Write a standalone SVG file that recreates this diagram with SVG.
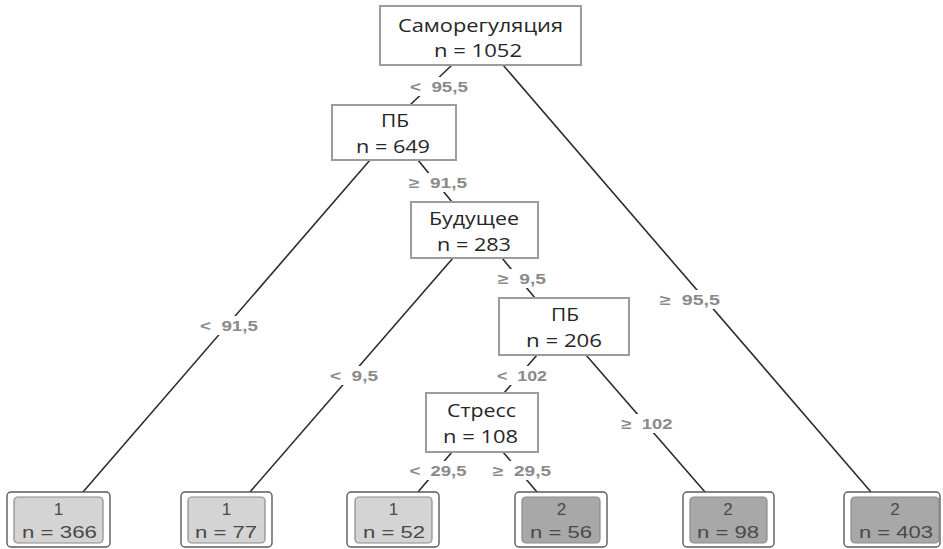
<svg xmlns="http://www.w3.org/2000/svg" width="943" height="549" viewBox="0 0 943 549">
<style>
.box{fill:#fff;stroke:#9c9c9c;stroke-width:2}
.nt{font-family:"Open Sans","Liberation Sans",sans-serif;font-size:19px;fill:#262626;text-anchor:middle}
.edge{stroke:#2b2b2b;stroke-width:1.6;fill:none}
.lbg{fill:#fff}
.lt{font-family:"Liberation Sans",Arial,sans-serif;font-size:14.5px;font-weight:bold;fill:#8a8a8a;text-anchor:middle}
.lo{fill:#fff;stroke:#5a5a5a;stroke-width:1.4}
.li{stroke:#8a8a8a;stroke-width:1.2}
.light{fill:#d4d4d4}
.dark{fill:#a8a8a8}
.ft{font-family:"Liberation Sans",Arial,sans-serif;font-size:17px;fill:#4a4a4a;text-anchor:middle}
</style>
<rect width="943" height="549" fill="#fff"/>
<g id="connectors">
<line class="edge" x1="452" y1="65" x2="410" y2="105"/>
<line class="edge" x1="503" y1="65" x2="871" y2="492"/>
<line class="edge" x1="370" y1="160" x2="83" y2="492"/>
<line class="edge" x1="418" y1="160" x2="452" y2="202"/>
<line class="edge" x1="453" y1="258" x2="250" y2="492"/>
<line class="edge" x1="502" y1="258" x2="535" y2="298"/>
<line class="edge" x1="537" y1="355" x2="504" y2="393"/>
<line class="edge" x1="586" y1="355" x2="705" y2="492"/>
<line class="edge" x1="452" y1="452" x2="418" y2="492"/>
<line class="edge" x1="503" y1="452" x2="537" y2="492"/>
<rect class="lbg" x="406" y="77" width="66" height="19"/>
<rect class="lbg" x="405" y="173" width="66" height="19"/>
<rect class="lbg" x="196" y="316" width="66" height="19"/>
<rect class="lbg" x="326" y="366" width="56" height="19"/>
<rect class="lbg" x="494" y="269" width="56" height="19"/>
<rect class="lbg" x="493" y="366" width="58" height="19"/>
<rect class="lbg" x="618" y="414" width="59" height="19"/>
<rect class="lbg" x="656" y="290" width="68" height="19"/>
<rect class="lbg" x="406" y="461" width="65" height="19"/>
<rect class="lbg" x="489" y="461" width="66" height="19"/>
<text class="lt" x="439" y="92" textLength="58" lengthAdjust="spacingAndGlyphs">&lt;&#160;&#160;95,5</text>
<text class="lt" x="438" y="188" textLength="58" lengthAdjust="spacingAndGlyphs">≥&#160;&#160;91,5</text>
<text class="lt" x="229" y="331" textLength="58" lengthAdjust="spacingAndGlyphs">&lt;&#160;&#160;91,5</text>
<text class="lt" x="354" y="381" textLength="48" lengthAdjust="spacingAndGlyphs">&lt;&#160;&#160;9,5</text>
<text class="lt" x="522" y="284" textLength="48" lengthAdjust="spacingAndGlyphs">≥&#160;&#160;9,5</text>
<text class="lt" x="522" y="381" textLength="50" lengthAdjust="spacingAndGlyphs">&lt;&#160;&#160;102</text>
<text class="lt" x="647" y="429" textLength="51" lengthAdjust="spacingAndGlyphs">≥&#160;&#160;102</text>
<text class="lt" x="690" y="305" textLength="60" lengthAdjust="spacingAndGlyphs">≥&#160;&#160;95,5</text>
<text class="lt" x="438" y="476" textLength="57" lengthAdjust="spacingAndGlyphs">&lt;&#160;&#160;29,5</text>
<text class="lt" x="522" y="476" textLength="58" lengthAdjust="spacingAndGlyphs">≥&#160;&#160;29,5</text>
</g>
<g id="n1">
<rect class="box" x="380" y="6" width="201" height="59"/>
<text class="nt" x="480.5" y="32" textLength="165" lengthAdjust="spacingAndGlyphs">Саморегуляция</text>
<text class="nt" x="478" y="57" textLength="88" lengthAdjust="spacingAndGlyphs">n = 1052</text>
</g>
<g id="n2">
<rect class="box" x="332" y="105" width="124" height="55"/>
<text class="nt" x="395" y="127" textLength="28" lengthAdjust="spacingAndGlyphs">ПБ</text>
<text class="nt" x="393" y="153" textLength="74" lengthAdjust="spacingAndGlyphs">n = 649</text>
</g>
<g id="n3">
<rect class="box" x="411" y="202" width="127" height="56"/>
<text class="nt" x="474" y="225" textLength="90" lengthAdjust="spacingAndGlyphs">Будущее</text>
<text class="nt" x="474" y="251" textLength="74" lengthAdjust="spacingAndGlyphs">n = 283</text>
</g>
<g id="n4">
<rect class="box" x="499" y="298" width="130" height="57"/>
<text class="nt" x="565" y="321" textLength="28" lengthAdjust="spacingAndGlyphs">ПБ</text>
<text class="nt" x="564" y="347" textLength="76" lengthAdjust="spacingAndGlyphs">n = 206</text>
</g>
<g id="n5">
<rect class="box" x="426" y="393" width="112" height="59"/>
<text class="nt" x="481.5" y="417" textLength="69" lengthAdjust="spacingAndGlyphs">Стресс</text>
<text class="nt" x="480.5" y="443" textLength="75" lengthAdjust="spacingAndGlyphs">n = 108</text>
</g>
<g id="leaf1">
<rect class="lo" x="7" y="492" width="103" height="55" rx="4"/>
<rect class="li light" x="14" y="497" width="89" height="46" rx="4"/>
<text class="ft" x="58.5" y="515">1</text>
<text class="ft" x="59.5" y="538" textLength="75" lengthAdjust="spacingAndGlyphs">n = 366</text>
</g>
<g id="leaf2">
<rect class="lo" x="181" y="492" width="91" height="55" rx="4"/>
<rect class="li light" x="188" y="497" width="77" height="46" rx="4"/>
<text class="ft" x="226.5" y="515">1</text>
<text class="ft" x="226" y="538" textLength="62" lengthAdjust="spacingAndGlyphs">n = 77</text>
</g>
<g id="leaf3">
<rect class="lo" x="347" y="492" width="92" height="55" rx="4"/>
<rect class="li light" x="355" y="497" width="77" height="46" rx="4"/>
<text class="ft" x="393.5" y="515">1</text>
<text class="ft" x="394" y="538" textLength="62" lengthAdjust="spacingAndGlyphs">n = 52</text>
</g>
<g id="leaf4">
<rect class="lo" x="515" y="492" width="92" height="55" rx="4"/>
<rect class="li dark" x="522" y="497" width="78" height="46" rx="4"/>
<text class="ft" x="561.5" y="515">2</text>
<text class="ft" x="561" y="538" textLength="62" lengthAdjust="spacingAndGlyphs">n = 56</text>
</g>
<g id="leaf5">
<rect class="lo" x="683" y="492" width="91" height="55" rx="4"/>
<rect class="li dark" x="690" y="497" width="77" height="46" rx="4"/>
<text class="ft" x="728" y="515">2</text>
<text class="ft" x="728" y="538" textLength="62" lengthAdjust="spacingAndGlyphs">n = 98</text>
</g>
<g id="leaf6">
<rect class="lo" x="844" y="492" width="96" height="55" rx="4"/>
<rect class="li dark" x="851" y="497" width="88" height="46" rx="4"/>
<text class="ft" x="895" y="515">2</text>
<text class="ft" x="896" y="538" textLength="74" lengthAdjust="spacingAndGlyphs">n = 403</text>
</g>
</svg>
